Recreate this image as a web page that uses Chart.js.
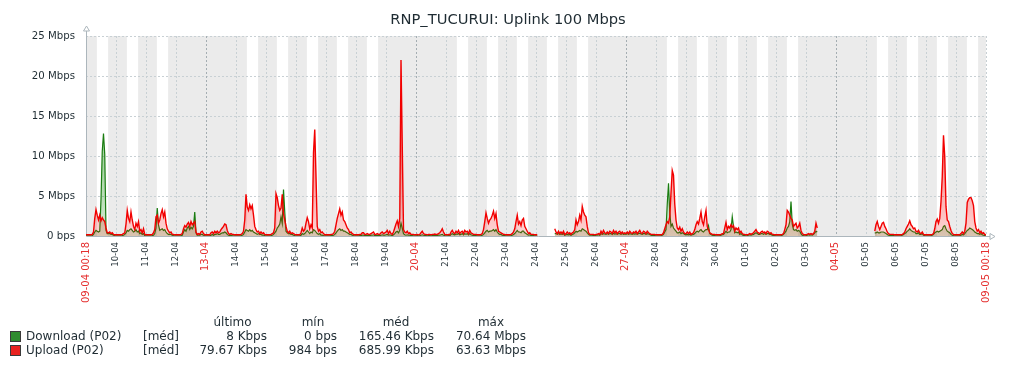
<!DOCTYPE html>
<html>
<head>
<meta charset="utf-8">
<script src="https://cdn.jsdelivr.net/npm/chart.js@4.4.1/dist/chart.umd.min.js"></script>
<style>
  body { margin: 0; background: #fff; }
  #wrap { position: relative; width: 1016px; height: 368px; font-family: "DejaVu Sans", sans-serif; color: #1F2C33; }
  #graph { position: absolute; left: 0; top: 0; }
  #title { position: absolute; left: 0; top: 10px; width: 1016px; text-align: center; font-size: 14.7px; line-height: 18px; }
  .t { position: absolute; white-space: nowrap; font-size: 12px; line-height: 14px; }
  .sq { position: absolute; width: 9px; height: 9px; border: 1px solid #3a3a3a; }
</style>
</head>
<body>
<div id="wrap">
  <canvas id="graph" width="1016" height="368"></canvas>
  <div id="title">RNP_TUCURUI: Uplink 100 Mbps</div>
</div>
<script>
// time axis: hours since 09-04 00:18, one point per hour
const startLabel = "09-04 00:18";
const endLabel = "09-05 00:18";
const dayLabels = [
    "10-04", "11-04", "12-04", "13-04", "14-04", "15-04", "16-04", "17-04", "18-04", "19-04",
    "20-04", "21-04", "22-04", "23-04", "24-04", "25-04", "26-04", "27-04", "28-04", "29-04",
    "30-04", "01-05", "02-05", "03-05", "04-05", "05-05", "06-05", "07-05", "08-05",
];
const sundayLabels = ["13-04", "20-04", "27-04", "04-05"];
const startWeekday = 3; // 09-04 is a Wednesday
const startHour = 0.3;  // 00:18
const totalHours = 720;
const hours = Array.from({ length: totalHours + 1 }, (_, i) => i);

// Mbps, 24 values per day, null = no data
const uploadMbps = [
    0.15,0.15,0.15,0.15,0.15,0.2,0.5,2.2,3.3,2.6,2.0,2.6,1.9,2.3,2.0,1.8,1.0,0.4,0.4,0.5,0.3,0.4,0.2,0.15, // 09-04
    0.15,0.15,0.15,0.15,0.15,0.2,0.3,0.4,1.5,3.2,2.2,1.8,3.0,2.0,1.2,0.8,1.6,1.2,1.8,0.6,0.8,0.4,0.9,0.2, // 10-04
    0.15,0.15,0.15,0.15,0.15,0.2,0.4,0.8,2.4,2.6,1.6,2.0,2.8,3.3,2.4,3.0,1.6,0.9,0.6,0.4,0.5,0.2,0.2,0.15, // 11-04
    0.15,0.15,0.15,0.15,0.2,0.3,0.9,1.3,1.1,1.5,1.7,1.2,1.8,1.4,1.6,1.8,0.5,0.2,0.3,0.2,0.5,0.6,0.3,0.15, // 12-04
    0.15,0.15,0.15,0.15,0.4,0.5,0.3,0.6,0.4,0.6,0.4,0.5,0.8,1.0,1.2,1.5,1.4,0.7,0.3,0.2,0.3,0.2,0.2,0.15, // 13-04
    0.15,0.15,0.15,0.15,0.2,0.3,0.6,2.0,5.2,3.6,3.2,3.9,3.4,3.8,2.6,1.2,0.8,0.5,0.6,0.3,0.5,0.3,0.4,0.2, // 14-04
    0.15,0.15,0.15,0.15,0.2,0.3,0.4,1.0,5.3,4.8,3.8,3.2,3.5,5.2,2.8,2.0,1.2,0.6,0.4,0.6,0.3,0.4,0.3,0.2, // 15-04
    0.15,0.15,0.15,0.15,0.4,1.0,0.6,0.8,1.6,2.3,1.8,0.9,1.4,1.0,10.4,13.3,7.5,1.2,0.6,0.8,0.4,0.5,0.3,0.15, // 16-04
    0.15,0.15,0.15,0.15,0.2,0.2,0.3,0.6,1.4,2.2,2.8,3.4,2.6,3.0,2.0,1.8,1.4,1.0,0.8,0.4,0.5,0.3,0.2,0.15, // 17-04
    0.15,0.15,0.15,0.2,0.2,0.4,0.4,0.2,0.2,0.3,0.2,0.2,0.3,0.4,0.5,0.2,0.2,0.3,0.2,0.2,0.4,0.5,0.3,0.4, // 18-04
    0.5,0.7,0.3,0.6,0.3,0.2,0.5,1.0,1.5,1.9,1.2,2.2,22.0,11.3,0.8,0.5,0.4,0.6,0.3,0.4,0.2,0.2,0.2,0.15, // 19-04
    0.15,0.2,0.15,0.2,0.4,0.6,0.3,0.2,0.2,0.15,0.2,0.2,0.15,0.2,0.2,0.25,0.2,0.2,0.3,0.4,0.6,0.9,0.5,0.2, // 20-04
    0.15,0.15,0.2,0.15,0.5,0.7,0.4,0.3,0.6,0.4,0.7,0.3,0.5,0.6,0.3,0.7,0.5,0.6,0.3,0.7,0.4,0.3,0.2,0.2, // 21-04
    0.2,0.15,0.15,0.15,0.2,0.3,0.8,1.8,2.9,2.2,1.6,2.0,2.2,2.6,3.1,2.2,2.8,1.4,0.6,0.5,0.4,0.3,0.2,0.2, // 22-04
    0.15,0.15,0.15,0.15,0.2,0.3,0.5,0.9,1.8,2.6,1.5,1.8,1.3,2.0,2.2,1.2,0.9,0.6,0.3,0.4,0.2,0.2,0.2,0.15, // 23-04
    0.15,0.15,null,null,null,null,null,null,null,null,null,null,null,null,null,0.9,0.5,0.3,0.6,0.3,0.5,0.3,0.6,0.2, // 24-04
    0.3,0.5,0.3,0.4,0.2,0.4,0.5,0.8,2.0,1.4,1.8,2.6,2.0,3.7,3.0,2.6,2.4,1.2,0.4,0.2,0.2,0.2,0.2,0.15, // 25-04
    0.2,0.2,0.3,0.2,0.6,0.3,0.7,0.4,0.3,0.5,0.3,0.6,0.5,0.3,0.7,0.4,0.6,0.3,0.5,0.6,0.3,0.5,0.3,0.4, // 26-04
    0.3,0.5,0.3,0.6,0.4,0.3,0.5,0.4,0.6,0.3,0.5,0.7,0.4,0.3,0.6,0.5,0.3,0.6,0.4,0.3,0.2,0.2,0.2,0.2, // 27-04
    0.15,0.15,0.15,0.15,0.15,0.2,0.4,0.9,1.4,1.8,1.6,2.4,5.4,8.2,7.6,4.0,2.0,1.0,0.8,1.1,0.6,0.9,0.5,0.3, // 28-04
    0.3,0.5,0.3,0.5,0.2,0.3,0.4,0.8,1.4,1.8,1.5,2.2,3.0,1.8,1.4,2.4,3.2,1.2,0.8,0.4,0.3,0.2,0.2,0.2, // 29-04
    0.15,0.15,0.15,0.15,0.2,0.3,0.3,1.0,1.7,0.8,1.2,1.0,1.4,1.1,1.3,0.6,1.0,0.8,1.0,0.4,0.6,0.3,0.2,0.2, // 30-04
    0.15,0.15,0.2,0.3,0.2,0.3,0.4,0.6,0.8,0.5,0.4,0.3,0.5,0.6,0.4,0.5,0.3,0.6,0.5,0.3,0.4,0.2,0.2,0.15, // 01-05
    0.15,0.15,0.15,0.15,0.15,0.2,0.3,0.8,1.4,3.2,3.0,2.6,2.2,2.0,1.2,1.4,1.6,1.0,1.2,1.6,0.7,0.3,0.2,0.15, // 02-05
    0.15,0.2,0.3,0.2,0.3,0.2,0.3,0.6,1.6,1.0,null,null,null,null,null,null,null,null,null,null,null,null,null,null, // 03-05
    null,null,null,null,null,null,null,null,null,null,null,null,null,null,null,null,null,null,null,null,null,null,null,null, // 04-05
    null,null,null,null,null,null,null,0.6,1.4,1.8,1.2,0.8,1.2,1.6,1.7,1.2,0.9,0.5,0.3,0.2,0.2,0.2,0.2,0.15, // 05-05
    0.15,0.15,0.15,0.15,0.15,0.2,0.3,0.5,0.9,1.2,1.5,1.9,1.4,1.2,0.9,1.0,0.6,0.5,0.7,0.4,0.3,0.5,0.2,0.15, // 06-05
    0.15,0.15,0.15,0.15,0.15,0.2,0.3,0.9,1.8,2.1,1.6,2.2,4.3,7.4,12.6,9.9,3.7,2.0,1.8,1.2,0.7,0.3,0.2,0.15, // 07-05
    0.15,0.15,0.15,0.15,0.3,0.5,0.3,0.6,1.6,4.2,4.6,4.8,4.8,4.4,3.8,1.8,1.0,0.6,0.8,0.4,0.6,0.3,0.4,0.2, // 08-05
    0.1, // 09-05 00:18
];

const downloadMbps = [
    0.03,0.03,0.03,0.03,0.03,0.05,0.2,0.5,0.7,0.6,0.5,0.6,4.6,10.6,12.8,10.2,0.7,0.3,0.3,0.3,0.2,0.2,0.1,0.05, // 09-04
    0.03,0.03,0.03,0.03,0.03,0.05,0.1,0.2,0.4,0.7,0.6,0.8,0.9,0.7,0.5,0.6,0.8,0.5,0.6,0.3,0.4,0.2,0.3,0.05, // 10-04
    0.03,0.03,0.03,0.03,0.03,0.05,0.1,0.3,1.0,3.5,1.4,0.7,0.8,0.9,0.7,0.8,0.5,0.3,0.2,0.2,0.2,0.1,0.05,0.03, // 11-04
    0.03,0.03,0.03,0.03,0.05,0.1,0.5,0.8,0.6,1.0,1.2,0.8,1.1,0.9,1.2,3.0,0.4,0.1,0.1,0.1,0.2,0.2,0.1,0.03, // 12-04
    0.03,0.03,0.03,0.03,0.1,0.2,0.1,0.2,0.2,0.3,0.2,0.2,0.3,0.4,0.4,0.5,0.4,0.2,0.1,0.05,0.1,0.05,0.03,0.03, // 13-04
    0.03,0.03,0.03,0.03,0.05,0.1,0.2,0.5,0.8,0.7,0.6,0.8,0.6,0.7,0.5,0.4,0.3,0.2,0.3,0.2,0.2,0.1,0.1,0.05, // 14-04
    0.03,0.03,0.03,0.03,0.05,0.1,0.2,0.4,0.6,1.0,1.2,1.5,2.4,1.6,5.8,3.0,0.6,0.4,0.3,0.3,0.2,0.2,0.1,0.05, // 15-04
    0.03,0.03,0.03,0.03,0.1,0.3,0.2,0.3,0.5,0.7,0.5,0.3,0.5,0.4,0.8,0.7,0.5,0.3,0.2,0.3,0.1,0.1,0.05,0.03, // 16-04
    0.03,0.03,0.03,0.03,0.05,0.05,0.1,0.2,0.4,0.6,0.8,0.9,0.7,0.8,0.6,0.6,0.5,0.4,0.3,0.2,0.2,0.1,0.05,0.03, // 17-04
    0.03,0.03,0.03,0.05,0.05,0.1,0.1,0.05,0.05,0.1,0.05,0.05,0.1,0.1,0.15,0.05,0.05,0.1,0.05,0.05,0.1,0.15,0.1,0.1, // 18-04
    0.15,0.2,0.1,0.15,0.1,0.05,0.15,0.3,0.5,0.6,0.4,0.7,1.6,1.0,0.3,0.15,0.1,0.15,0.1,0.1,0.05,0.05,0.03,0.03, // 19-04
    0.03,0.05,0.03,0.05,0.1,0.15,0.1,0.05,0.05,0.03,0.05,0.05,0.03,0.05,0.05,0.05,0.05,0.05,0.1,0.1,0.15,0.2,0.1,0.05, // 20-04
    0.03,0.03,0.05,0.03,0.2,0.3,0.2,0.15,0.25,0.2,0.3,0.15,0.2,0.3,0.15,0.3,0.2,0.3,0.15,0.3,0.15,0.1,0.05,0.05, // 21-04
    0.05,0.03,0.03,0.03,0.05,0.1,0.2,0.4,0.6,0.7,0.5,0.6,0.6,0.7,0.8,0.6,0.8,0.5,0.3,0.2,0.2,0.1,0.05,0.05, // 22-04
    0.03,0.03,0.03,0.03,0.05,0.1,0.2,0.3,0.5,0.7,0.5,0.5,0.4,0.6,0.6,0.4,0.3,0.2,0.1,0.15,0.05,0.05,0.05,0.03, // 23-04
    0.03,0.03,null,null,null,null,null,null,null,null,null,null,null,null,null,0.3,0.3,0.2,0.3,0.2,0.25,0.2,0.3,0.1, // 24-04
    0.15,0.2,0.15,0.2,0.1,0.2,0.25,0.4,0.6,0.5,0.6,0.7,0.6,0.9,0.8,0.7,0.6,0.4,0.2,0.1,0.1,0.1,0.05,0.05, // 25-04
    0.1,0.1,0.15,0.1,0.3,0.2,0.3,0.25,0.2,0.3,0.2,0.3,0.3,0.2,0.35,0.25,0.3,0.2,0.3,0.3,0.2,0.3,0.2,0.25, // 26-04
    0.2,0.3,0.2,0.3,0.25,0.2,0.3,0.25,0.3,0.2,0.3,0.35,0.25,0.2,0.3,0.3,0.2,0.3,0.25,0.2,0.1,0.05,0.05,0.05, // 27-04
    0.03,0.03,0.03,0.03,0.05,0.1,0.2,0.5,0.8,4.0,6.6,3.0,1.2,1.5,1.0,0.8,0.6,0.4,0.4,0.5,0.3,0.4,0.3,0.2, // 28-04
    0.15,0.2,0.15,0.2,0.1,0.15,0.2,0.3,0.5,0.6,0.5,0.7,0.8,0.6,0.5,0.7,0.8,0.8,1.3,0.3,0.2,0.1,0.05,0.05, // 29-04
    0.03,0.03,0.03,0.05,0.1,0.15,0.2,0.4,0.6,0.4,0.5,0.5,0.8,2.4,1.2,0.4,0.5,0.4,0.5,0.2,0.3,0.15,0.05,0.05, // 30-04
    0.03,0.05,0.1,0.15,0.1,0.15,0.2,0.3,0.4,0.3,0.2,0.2,0.3,0.3,0.2,0.3,0.2,0.3,0.3,0.2,0.2,0.1,0.05,0.05, // 01-05
    0.03,0.03,0.03,0.03,0.05,0.1,0.2,0.4,0.6,1.0,1.2,1.8,4.3,1.5,0.8,0.7,0.8,0.6,0.7,0.6,0.3,0.1,0.05,0.03, // 02-05
    0.05,0.1,0.15,0.1,0.15,0.1,0.2,0.4,0.6,0.5,null,null,null,null,null,null,null,null,null,null,null,null,null,null, // 03-05
    null,null,null,null,null,null,null,null,null,null,null,null,null,null,null,null,null,null,null,null,null,null,null,null, // 04-05
    null,null,null,null,null,null,null,0.4,0.4,0.5,0.4,0.4,0.5,0.5,0.5,0.4,0.3,0.2,0.1,0.05,0.05,0.05,0.05,0.03, // 05-05
    0.03,0.03,0.03,0.03,0.05,0.1,0.2,0.3,0.4,0.6,0.7,0.9,0.7,0.6,0.5,0.5,0.3,0.3,0.4,0.2,0.2,0.3,0.1,0.05, // 06-05
    0.03,0.03,0.03,0.03,0.05,0.1,0.2,0.4,0.5,0.6,0.5,0.6,0.7,0.8,1.2,1.3,0.9,0.6,0.5,0.4,0.2,0.1,0.05,0.03, // 07-05
    0.03,0.03,0.03,0.05,0.1,0.2,0.15,0.3,0.5,0.7,0.8,1.0,0.9,0.8,0.7,0.5,0.4,0.3,0.3,0.2,0.3,0.15,0.1,0.05, // 08-05
    0.01, // 09-05 00:18
];

const yMax = 25;
const yStep = 5;

// legend / stats table
const legendNames = ["Download (P02)", "Upload (P02)"];
const legendColors = ["#2F8B2F", "#E8221F"];
const legendFunc = ["[méd]", "[méd]"];
const statHeaders = ["último", "mín", "méd", "máx"];
const statLast = ["8 Kbps", "79.67 Kbps"];
const statMin = ["0 bps", "984 bps"];
const statAvg = ["165.46 Kbps", "685.99 Kbps"];
const statMax = ["70.64 Mbps", "63.63 Mbps"];

const FONT = "DejaVu Sans";
const TEXT = "#1F2C33";
const RED_TEXT = "#E53030";

const tickLabels = [startLabel, ...dayLabels, endLabel];
const tickValues = [0, ...dayLabels.map((_, k) => 24 * (k + 1) - startHour), totalHours];
const isMajor = (i) => i === 0 || i === tickLabels.length - 1 || sundayLabels.includes(tickLabels[i]);

// working time (Mon-Fri 09:00-18:00) is drawn white, the rest gray
const workPeriods = [];
for (let k = 0; k <= 30; k++) {
    const wd = (startWeekday + k) % 7;
    if (wd >= 1 && wd <= 5) {
        workPeriods.push([24 * k - startHour + 9, 24 * k - startHour + 18]);
    }
}

function fade(rgb, a0, a1) {
    return function (c) {
        const { ctx, chartArea } = c.chart;
        if (!chartArea) return "rgba(" + rgb + "," + a1 + ")";
        const g = ctx.createLinearGradient(0, chartArea.bottom - 70, 0, chartArea.bottom);
        g.addColorStop(0, "rgba(" + rgb + "," + a0 + ")");
        g.addColorStop(1, "rgba(" + rgb + "," + a1 + ")");
        return g;
    };
}

const zbxGraph = {
    id: "zbxGraph",
    beforeDraw(chart) {
        const { ctx, chartArea: a, scales: { x } } = chart;
        ctx.save();
        ctx.fillStyle = "#EBEBEB";
        ctx.fillRect(a.left, a.top, a.right - a.left, a.bottom - a.top);
        ctx.fillStyle = "#FFFFFF";
        workPeriods.forEach(([s, e]) => {
            const x0 = x.getPixelForValue(Math.max(s, 0));
            const x1 = x.getPixelForValue(Math.min(e, totalHours));
            if (x1 > x0) ctx.fillRect(x0, a.top, x1 - x0, a.bottom - a.top);
        });
        ctx.restore();
    },
    beforeDatasetsDraw(chart) {
        const { ctx, chartArea: a, scales: { x, y } } = chart;
        ctx.save();
        ctx.lineWidth = 1;
        ctx.setLineDash([2, 2]);
        ctx.strokeStyle = "#C8D0D4";
        for (let v = yStep; v <= yMax; v += yStep) {
            const py = Math.round(y.getPixelForValue(v)) + 0.5;
            ctx.beginPath();
            ctx.moveTo(a.left, py);
            ctx.lineTo(a.right, py);
            ctx.stroke();
        }
        tickValues.forEach((v, i) => {
            if (i === 0) return;
            const px = Math.round(x.getPixelForValue(v)) + 0.5;
            ctx.strokeStyle = isMajor(i) && i !== tickValues.length - 1 ? "#A4ADB2" : "#C8D0D4";
            ctx.beginPath();
            ctx.moveTo(px, a.top);
            ctx.lineTo(px, a.bottom);
            ctx.stroke();
        });
        // axes with arrow heads
        ctx.setLineDash([]);
        ctx.strokeStyle = "#ACB6BC";
        const lx = a.left + 0.5, by = a.bottom + 0.5;
        ctx.beginPath();
        ctx.moveTo(lx, a.top - 5);
        ctx.lineTo(lx, by);
        ctx.lineTo(a.right + 4, by);
        ctx.stroke();
        ctx.beginPath();
        ctx.moveTo(lx - 3, a.top - 5);
        ctx.lineTo(lx, a.top - 10);
        ctx.lineTo(lx + 3, a.top - 5);
        ctx.closePath();
        ctx.stroke();
        ctx.beginPath();
        ctx.moveTo(a.right + 4, by - 3);
        ctx.lineTo(a.right + 9, by);
        ctx.lineTo(a.right + 4, by + 3);
        ctx.closePath();
        ctx.stroke();
        ctx.restore();
    },
};

const ctx = document.getElementById("graph").getContext("2d");

new Chart(ctx, {
    type: "line",
    data: {
        labels: hours,
        datasets: [
            {
                label: "Upload (P02)",
                data: uploadMbps,
                borderColor: "#F20000",
                borderWidth: 1.4,
                backgroundColor: fade("245,0,0", 0.42, 0.16),
                fill: "origin",
                pointRadius: 0,
                tension: 0,
            },
            {
                label: "Download (P02)",
                data: downloadMbps,
                borderColor: "#1A7C11",
                borderWidth: 1.2,
                backgroundColor: fade("40,150,30", 0.4, 0.2),
                fill: "origin",
                pointRadius: 0,
                tension: 0,
            },
        ],
    },
    options: {
        responsive: false,
        animation: false,
        events: [],
        layout: { padding: { left: 0, right: 30, top: 36, bottom: 0 } },
        plugins: {
            legend: { display: false },
            tooltip: { enabled: false },
            title: { display: false },
        },
        scales: {
            x: {
                type: "linear",
                min: 0,
                max: totalHours,
                grid: { display: false, drawTicks: false },
                border: { display: false },
                afterBuildTicks: (s) => {
                    s.ticks = tickValues.map((v) => ({ value: v }));
                },
                afterFit: (s) => {
                    s.height = 132;
                },
                ticks: {
                    autoSkip: false,
                    minRotation: 90,
                    maxRotation: 90,
                    padding: 6,
                    callback: (v, i) => tickLabels[i],
                    color: (c) => (isMajor(c.index) ? RED_TEXT : TEXT),
                    font: (c) => ({ family: FONT, size: isMajor(c.index) ? 10 : 8.5 }),
                },
            },
            y: {
                min: 0,
                max: yMax,
                grid: { display: false, drawTicks: false },
                border: { display: false },
                afterFit: (s) => {
                    s.width = 86;
                },
                ticks: {
                    stepSize: yStep,
                    padding: 11,
                    color: TEXT,
                    font: { family: FONT, size: 10.2 },
                    callback: (v) => (v === 0 ? "0 bps" : v + " Mbps"),
                },
            },
        },
    },
    plugins: [zbxGraph],
});

// legend and stats under the graph
const wrap = document.getElementById("wrap");
function put(text, css) {
    const d = document.createElement("div");
    d.className = "t";
    d.textContent = text;
    Object.assign(d.style, css);
    wrap.appendChild(d);
    return d;
}
const headCenters = [232.5, 313, 396, 491];
const valueRights = [267, 337, 434, 526];
statHeaders.forEach((h, i) => {
    put(h, { left: headCenters[i] + "px", top: "315px", transform: "translateX(-50%)" });
});
const rowTops = [329, 342.5];
legendNames.forEach((name, r) => {
    const sq = document.createElement("div");
    sq.className = "sq";
    sq.style.left = "10px";
    sq.style.top = rowTops[r] + 2 + "px";
    sq.style.background = legendColors[r];
    wrap.appendChild(sq);
    put(name, { left: "26px", top: rowTops[r] + "px" });
    put(legendFunc[r], { left: "143px", top: rowTops[r] + "px" });
    [statLast[r], statMin[r], statAvg[r], statMax[r]].forEach((v, i) => {
        put(v, { right: 1016 - valueRights[i] + "px", top: rowTops[r] + "px" });
    });
});
</script>
</body>
</html>
